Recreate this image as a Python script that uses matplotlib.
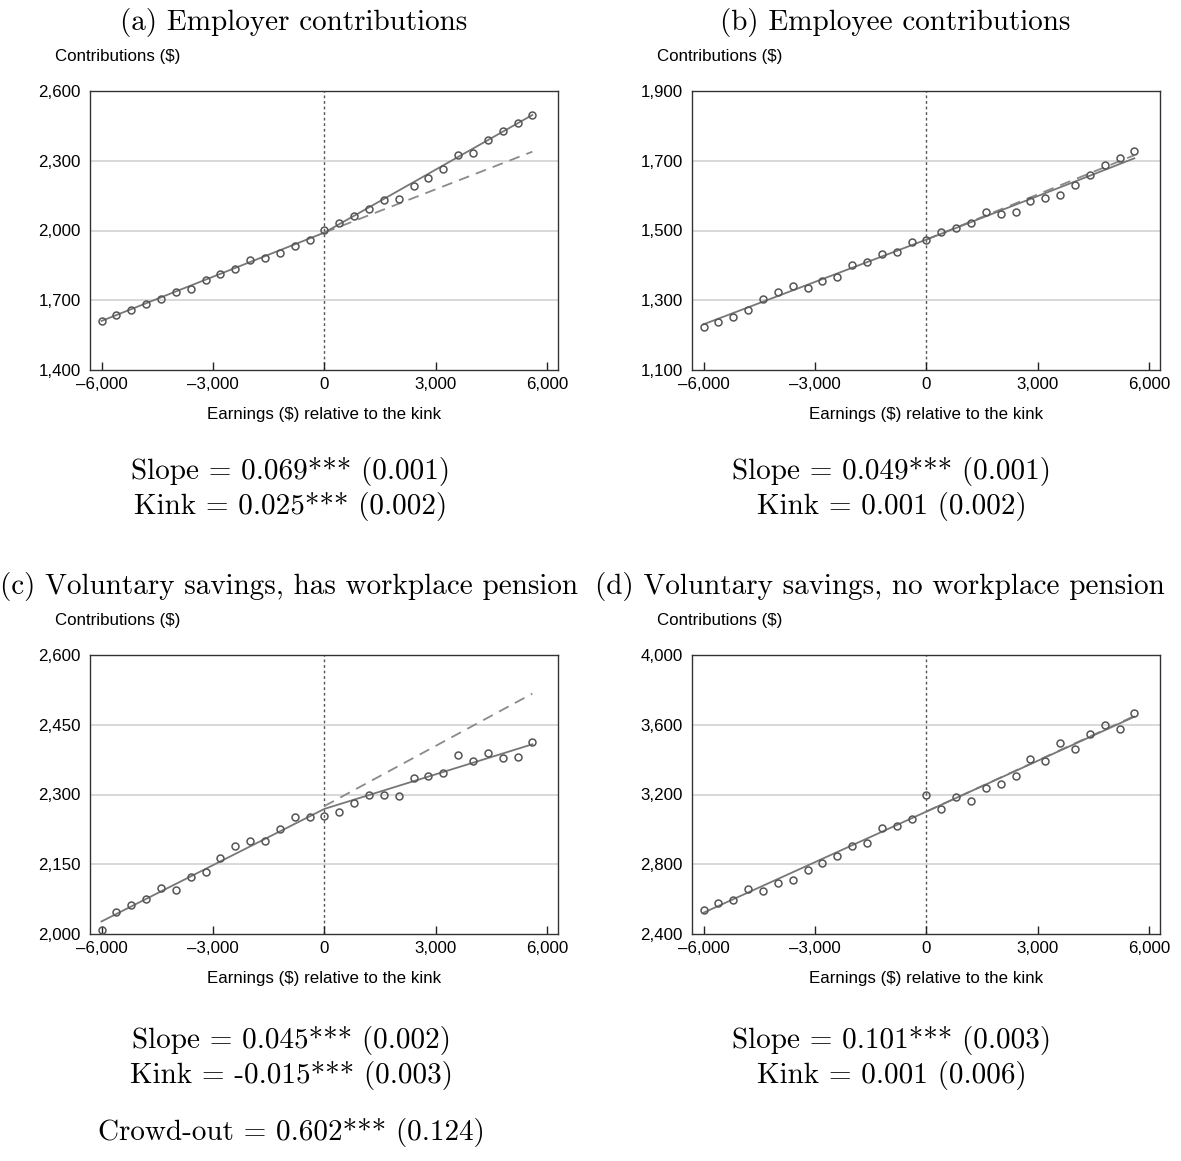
import numpy as np
import matplotlib.pyplot as plt
from matplotlib.ticker import FuncFormatter

plt.rcParams['font.family'] = ['Liberation Sans', 'DejaVu Sans']

# bin centres (earnings relative to the kink)
earnings = [-6000, -5600, -5200, -4800, -4400, -4000, -3600, -3200, -2800, -2400,
            -2000, -1600, -1200, -800, -400, 0, 400, 800, 1200, 1600,
            2000, 2400, 2800, 3200, 3600, 4000, 4400, 4800, 5200, 5600]

# binned means of contributions
employer = [1611, 1635, 1657, 1682, 1705, 1734, 1748, 1787, 1811, 1834,
            1872, 1883, 1902, 1933, 1961, 2001, 2032, 2061, 2092, 2133,
            2135, 2193, 2226, 2263, 2325, 2335, 2389, 2428, 2462, 2497]
employee = [1223, 1237, 1251, 1273, 1305, 1324, 1340, 1334, 1355, 1366,
            1401, 1411, 1434, 1438, 1467, 1472, 1495, 1508, 1521, 1552,
            1546, 1552, 1585, 1592, 1602, 1630, 1660, 1688, 1707, 1728]
vol_pension = [2009, 2047, 2062, 2075, 2099, 2095, 2123, 2134, 2164, 2189,
               2200, 2200, 2225, 2252, 2251, 2254, 2262, 2282, 2298, 2300,
               2297, 2336, 2339, 2347, 2384, 2373, 2390, 2378, 2381, 2412]
vol_nopension = [2538, 2580, 2593, 2660, 2648, 2690, 2712, 2765, 2805, 2845,
                 2907, 2922, 3006, 3019, 3058, 3197, 3117, 3184, 3165, 3237,
                 3258, 3304, 3405, 3394, 3495, 3459, 3545, 3599, 3576, 3669]

# fitted kinked line at -6000, 0, 5600 and the extrapolated pre-kink line at 0, 5600
fit_x = [-6000, 0, 5600]
cf_x = [0, 5600]
employer_fit = [1611, 1991, 2497]
employer_cf = [1991, 2339]
employee_fit = [1231, 1474, 1707]
employee_cf = [1474, 1716]
vol_pension_fit = [2027, 2269, 2408]
vol_pension_cf = [2275, 2517]
vol_nopension_fit = [2522, 3102, 3646]
vol_nopension_cf = [3102, 3650]

titles = ['(a) Employer contributions', '(b) Employee contributions',
          '(c) Voluntary savings, has workplace pension',
          '(d) Voluntary savings, no workplace pension']
slopes = ['0.069*** (0.001)', '0.049*** (0.001)',
          '0.045*** (0.002)', '0.101*** (0.003)']
kinks = ['0.025*** (0.002)', '0.001 (0.002)',
         '-0.015*** (0.003)', '0.001 (0.006)']
crowd_out = '0.602*** (0.124)'

y_ranges = [(1400, 2600, 300), (1100, 1900, 200), (2000, 2600, 150), (2400, 4000, 400)]
x_ticks = [-6000, -3000, 0, 3000, 6000]

W, H = 1181, 1161
fig = plt.figure(figsize=(W / 100, H / 100), dpi=100)


def fx(x):
    return x / W


def fy(y):
    return 1 - y / H


def fmt(v, pos):
    s = f'{abs(v):,.0f}'
    return '\u2013' + s if v < 0 else s


series = [employer, employee, vol_pension, vol_nopension]
fits = [employer_fit, employee_fit, vol_pension_fit, vol_nopension_fit]
cfs = [employer_cf, employee_cf, vol_pension_cf, vol_nopension_cf]

# pixel boxes of each panel: left, top, right, bottom
boxes = [(90, 91, 558, 370), (692, 91, 1160, 370),
         (90, 655, 558, 934), (692, 655, 1160, 934)]
title_pos = [(294, 30), (895, 30), (289, 594), (880, 594)]
stat_x = [291, 892, 291, 892]
stat_y = [(479, 514), (479, 514), (1048, 1083), (1048, 1083)]

serif = dict(family='cmr10', fontsize=21, ha='center', va='baseline')
sans = 12.2

for i in range(4):
    l, t, r, b = boxes[i]
    ax = fig.add_axes([fx(l), fy(b), fx(r - l), (b - t) / H])
    lo, hi, step = y_ranges[i]
    yt = np.arange(lo, hi + 1, step)
    ax.set_ylim(lo, hi)
    ax.set_xlim(-6310, 6290)
    ax.set_yticks(yt)
    ax.set_xticks(x_ticks)
    ax.xaxis.set_major_formatter(FuncFormatter(fmt))
    ax.yaxis.set_major_formatter(FuncFormatter(fmt))
    for v in yt[1:-1]:
        ax.axhline(v, color='#d6d6d6', lw=1.3, zorder=0)
    ax.tick_params(axis='x', direction='in', length=6, width=1, color='#222222',
                   labelsize=sans, pad=5)
    ax.tick_params(axis='y', length=0, labelsize=sans, pad=6.5)
    for sp in ax.spines.values():
        sp.set_color('#333333')
        sp.set_linewidth(1.0)

    ax.axvline(0, color='#555555', lw=1.0, ls=(0, (2, 2)), zorder=1)
    ax.plot(cf_x, cfs[i], color='#8a8a8a', lw=1.3, ls=(0, (6, 4)), zorder=2)
    ax.plot(fit_x, fits[i], color='#777777', lw=1.3, zorder=2)
    ax.plot(earnings, series[i], 'o', mfc='none', mec='#555555', ms=5, mew=1.1, zorder=3)

    fig.text(fx(l - 35), fy(t - 34), 'Contributions ($)', fontsize=sans, va='center', ha='left')
    fig.text(fx((l + r) / 2), fy(b + 45),
             'Earnings ($) relative to the kink', fontsize=sans, ha='center', va='center')

    tx, ty = title_pos[i]
    fig.text(fx(tx), fy(ty), titles[i], **serif)
    fig.text(fx(stat_x[i]), fy(stat_y[i][0]), 'Slope = ' + slopes[i], **serif)
    fig.text(fx(stat_x[i]), fy(stat_y[i][1]), 'Kink = ' + kinks[i], **serif)

fig.text(fx(291), fy(1140), 'Crowd-out = ' + crowd_out, **serif)

fig.savefig('out.png', dpi=100)
